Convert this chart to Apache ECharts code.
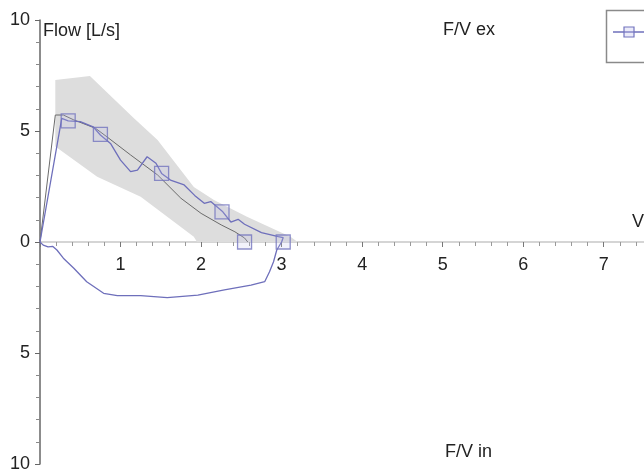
<!DOCTYPE html>
<html>
<head>
<meta charset="utf-8">
<script src="https://cdn.jsdelivr.net/npm/echarts@6/dist/echarts.min.js"></script>
<style>html,body{margin:0;padding:0;background:#fff}#c{width:644px;height:474px}</style>
</head>
<body>
<div id="c"></div>
<script>
// Predicted normal range band (upper and lower boundary), volume [L] vs flow [L/s]
var bandUpper = [[0.19,7.3],[0.62,7.48],[1.16,5.6],[1.46,4.6],[1.91,2.48],[2.16,1.89],[2.57,1.14],[3.11,0.24],[3.2,0]];
var bandLower = [[0.19,4.3],[0.71,2.94],[1.25,2.04],[1.91,0.24],[1.95,0]];
// Predicted expiratory curve
var predicted = [[0,0],[0.19,5.72],[0.29,5.72],[0.42,5.5],[0.69,5.12],[0.83,4.74],[1.125,3.92],[1.46,3.02],[1.75,1.97],[2.0,1.29],[2.25,0.77],[2.42,0.46],[2.54,0.18],[2.58,0]];
// Measured expiratory curve
var expiratory = [[0,0],[0.27,5.57],[0.35,5.46],[0.5,5.42],[0.66,5.19],[0.75,4.82],[0.875,4.44],[1.0,3.69],[1.125,3.17],[1.21,3.24],[1.33,3.84],[1.44,3.55],[1.51,3.09],[1.62,2.79],[1.79,2.57],[1.92,2.1],[2.04,1.74],[2.12,1.82],[2.27,1.36],[2.37,0.9],[2.46,1.02],[2.54,0.8],[2.75,0.42],[2.96,0.24],[3.02,0.2],[3.0,0]];
// Measured inspiratory curve (flow negative)
var inspiratory = [[0,0],[0.04,-0.14],[0.1,-0.22],[0.16,-0.2],[0.21,-0.36],[0.29,-0.73],[0.42,-1.18],[0.58,-1.79],[0.79,-2.31],[0.96,-2.42],[1.25,-2.42],[1.58,-2.51],[1.96,-2.39],[2.29,-2.16],[2.62,-1.94],[2.79,-1.79],[2.85,-1.34],[2.9,-0.89],[2.94,-0.36],[3.0,0]];
// Square markers
var markers = [[0.35,5.46],[0.75,4.85],[1.51,3.09],[2.26,1.36],[2.54,0],[3.02,0]];
// Tick labels
var xTickLabels = ['', '1', '2', '3', '4', '5', '6', '7'];

var chart = echarts.init(document.getElementById('c'), null, {renderer: 'canvas'});
var font = 'Liberation Sans, Arial, sans-serif';
var blue = '#6e6fbb';

var bandPoly = bandUpper.concat(bandLower.slice().reverse());

chart.setOption({
  animation: false,
  grid: {left: 40, right: 0, top: 20, bottom: 10, containLabel: false, outerBoundsMode: 'none'},
  xAxis: {
    type: 'value', min: 0, max: 7.5, interval: 1, offset: -222,
    axisLine: {onZero: false, lineStyle: {color: '#c8c8c8', width: 1.5}},
    axisTick: {show: true, inside: false, length: 5, lineStyle: {color: '#777'}},
    minorTick: {show: true, splitNumber: 5, length: 4, lineStyle: {color: '#999'}},
    splitLine: {show: false},
    axisLabel: {
      fontSize: 18, color: '#222', fontFamily: font, margin: 14,
      formatter: function (v) { return xTickLabels[Math.round(v)] || ''; },
      showMaxLabel: false
    }
  },
  yAxis: {
    type: 'value', min: -10, max: 10, interval: 5,
    axisLine: {show: true, onZero: false, lineStyle: {color: '#666', width: 1.5}},
    axisTick: {show: true, length: 5, lineStyle: {color: '#666'}},
    minorTick: {show: true, splitNumber: 5, length: 4, lineStyle: {color: '#888'}},
    splitLine: {show: false},
    axisLabel: {
      fontSize: 18, color: '#222', fontFamily: font, margin: 10,
      formatter: function (v) { return String(Math.abs(v)); }
    }
  },
  series: [
    {
      type: 'custom', name: 'band', silent: true, z: 1,
      data: [[0, 0]],
      renderItem: function (params, api) {
        var pts = bandPoly.map(function (p) { return api.coord(p); });
        return {type: 'polygon', shape: {points: pts}, style: {fill: '#dddddd', stroke: null}};
      }
    },
    {
      type: 'line', name: 'Predicted', data: predicted, showSymbol: false, z: 2,
      lineStyle: {color: '#6b6b6b', width: 1}
    },
    {
      type: 'line', name: 'Measured', data: expiratory, showSymbol: false, z: 3,
      lineStyle: {color: blue, width: 1.3}
    },
    {
      type: 'line', name: 'Measured in', data: inspiratory, showSymbol: false, z: 3,
      lineStyle: {color: blue, width: 1.3}
    },
    {
      type: 'scatter', name: 'Markers', data: markers, symbol: 'rect', symbolSize: 14, z: 4,
      itemStyle: {color: 'rgba(190,190,235,0.25)', borderColor: '#7374be', borderWidth: 1.3}
    }
  ],
  graphic: [
    {type: 'text', left: 43, top: 22, style: {text: 'Flow [L/s]', font: '18px ' + font, fill: '#222'}},
    {type: 'text', left: 443, top: 21, style: {text: 'F/V ex', font: '18px ' + font, fill: '#222'}},
    {type: 'text', left: 445, top: 443, style: {text: 'F/V in', font: '18px ' + font, fill: '#222'}},
    {type: 'text', left: 632, top: 213, style: {text: 'V', font: '18px ' + font, fill: '#222'}},
    {type: 'rect', shape: {x: 606.5, y: 10.5, width: 60, height: 52}, style: {fill: '#fff', stroke: '#8a8a8a', lineWidth: 1.5}, z: 10},
    {type: 'line', shape: {x1: 613, y1: 32, x2: 650, y2: 32}, style: {stroke: blue, lineWidth: 1.3}, z: 11},
    {type: 'rect', shape: {x: 624, y: 27, width: 10, height: 10}, style: {fill: 'rgba(190,190,235,0.3)', stroke: '#7374be', lineWidth: 1.2}, z: 12}
  ]
});
</script>
</body>
</html>
